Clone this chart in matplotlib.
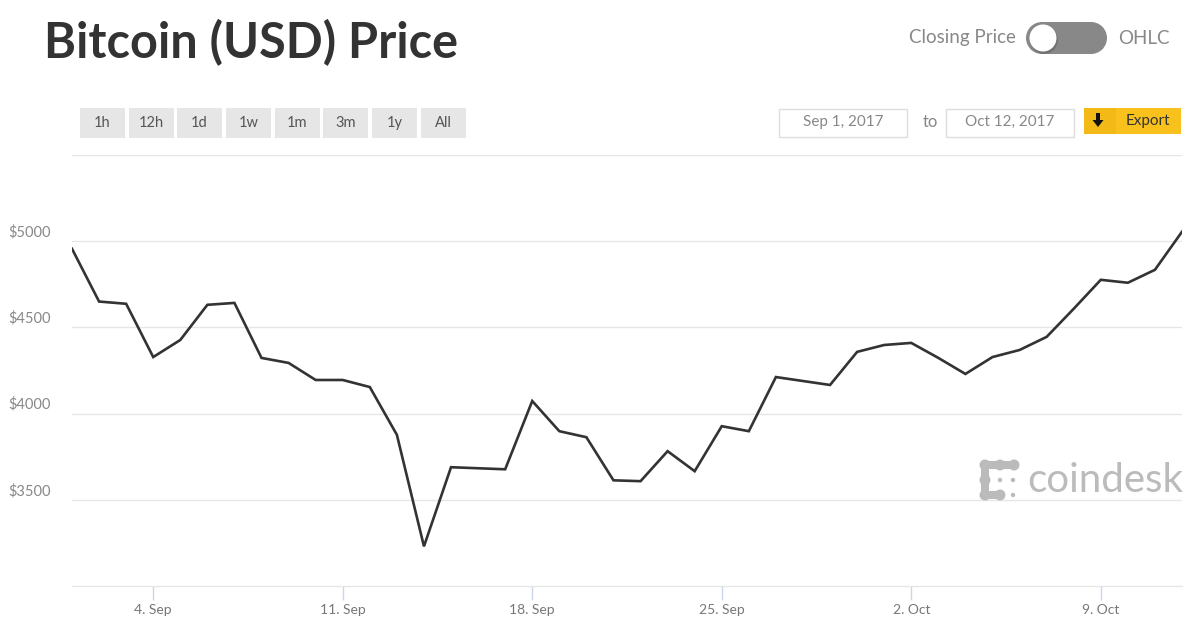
import matplotlib
matplotlib.use("Agg")
import matplotlib.pyplot as plt
import matplotlib.dates as mdates
from matplotlib.patches import FancyBboxPatch, Rectangle, Circle, FancyArrow
import numpy as np
import pandas as pd

# ---- data ----
dates = pd.date_range("2017-09-01", "2017-10-12", freq="D")
prices = [4956, 4650, 4637, 4328, 4427, 4631, 4642, 4323, 4294, 4195,
          4195, 4154, 3877, 3230, 3689, 3683, 3677, 4073, 3898, 3863,
          3613, 3608, 3782, 3666, 3927, 3898, 4212, 4189, 4166, 4358,
          4398, 4410, 4323, 4230, 4328, 4369, 4445, 4608, 4776, 4759,
          4834, 5055]
ytick_vals = [3500, 4000, 4500, 5000]
ytick_labels = ["$3500", "$4000", "$4500", "$5000"]
xtick_dates = ["2017-09-04", "2017-09-11", "2017-09-18", "2017-09-25", "2017-10-02", "2017-10-09"]
xtick_labels = ["4. Sep", "11. Sep", "18. Sep", "25. Sep", "2. Oct", "9. Oct"]
range_buttons = ["1h", "12h", "1d", "1w", "1m", "3m", "1y", "All"]
title = "Bitcoin (USD) Price"

W, H = 1191, 634
fig = plt.figure(figsize=(W / 100, H / 100), dpi=100)
fig.patch.set_facecolor("white")

FONT = "Lato"
grid_c = "#e6e6e6"
lab_c = "#888888"

# ---- main axes ----
ax = fig.add_axes([72 / W, 1 - 586 / H, (1182 - 72) / W, (586 - 155) / H])
ax.plot(dates, prices, color="#333333", lw=1.9, solid_joinstyle="miter", zorder=3)
ax.set_xlim(dates[0], dates[-1])
ax.set_ylim(3000, 5500)
for s in ["left", "right", "top"]:
    ax.spines[s].set_visible(False)
ax.spines["bottom"].set_color(grid_c)
ax.spines["bottom"].set_linewidth(1)
for v in ytick_vals + [5500]:
    ax.axhline(v, color=grid_c, lw=1, zorder=1)
ax.set_yticks([])
xt = pd.to_datetime(xtick_dates)
ax.set_xticks(xt)
ax.set_xticklabels(xtick_labels, fontsize=10, color="#777777", family=FONT)
ax.tick_params(axis="x", length=10, width=1, color="#ccd6eb", pad=3)
for v, l in zip(ytick_vals, ytick_labels):
    ax.annotate(l, xy=(0, v), xycoords=("figure pixels", "data"),
                xytext=(8, 9), textcoords="offset pixels",
                fontsize=10.5, color=lab_c, family=FONT, ha="left", va="center")

# ---- overlay (pixel coordinates) ----
ov = fig.add_axes([0, 0, 1, 1], zorder=5)
ov.set_xlim(0, W)
ov.set_ylim(H, 0)
ov.axis("off")
ov.patch.set_alpha(0)

ov.text(44, 58, title, fontsize=35, fontweight="bold", color="#333333",
        family=FONT, ha="left", va="baseline")

# range buttons
bx = [80, 129, 177, 226, 275, 323, 372, 421]
for x0, lab in zip(bx, range_buttons):
    ov.add_patch(Rectangle((x0, 108), 45, 30, facecolor="#e6e6e6", edgecolor="none"))
    ov.text(x0 + 22.5, 123, lab, fontsize=10.5, color="#555555", family=FONT,
            ha="center", va="center")

# toggle
ov.text(1016, 38, "Closing Price", fontsize=13.5, color="#888888", family=FONT,
        ha="right", va="center")
ov.text(1118, 38, "OHLC", fontsize=13.5, color="#888888", family=FONT,
        ha="left", va="center")
ov.add_patch(Rectangle((1042, 22), 49, 32, facecolor="#888888", edgecolor="none"))
ov.add_patch(Circle((1042, 38), 16, facecolor="#888888", edgecolor="none"))
ov.add_patch(Circle((1091, 38), 16, facecolor="#888888", edgecolor="none"))
ov.add_patch(Circle((1044, 40), 14, facecolor="#555555", edgecolor="none", alpha=0.4))
ov.add_patch(Circle((1043, 38), 13.5, facecolor="white", edgecolor="none"))

# date boxes
ov.add_patch(Rectangle((779, 109), 128, 28, facecolor="white", edgecolor="#dddddd", lw=1))
ov.text(843, 122, "Sep 1, 2017", fontsize=11, color="#888888", family=FONT,
        ha="center", va="center")
ov.text(930, 122, "to", fontsize=12, color="#888888", family=FONT,
        ha="center", va="center")
ov.add_patch(Rectangle((946, 109), 128, 28, facecolor="white", edgecolor="#dddddd", lw=1))
ov.text(1010, 122, "Oct 12, 2017", fontsize=11, color="#888888", family=FONT,
        ha="center", va="center")

# export button
ov.add_patch(Rectangle((1084, 108), 97, 26, facecolor="#f9c11c", edgecolor="none"))
ov.add_patch(Rectangle((1084, 108), 32, 26, facecolor="#f3b917", edgecolor="none"))
ov.add_patch(FancyArrow(1098, 113, 0, 14, width=4, head_width=11, head_length=7,
                        length_includes_head=True, facecolor="#111111", edgecolor="none"))
ov.text(1148, 121, "Export", fontsize=11, color="#333333", family=FONT,
        ha="center", va="center")

# coindesk watermark
logo_c = "#bbbbbb"
big = [(985, 465), (1000, 465), (1014, 465), (985, 480), (985, 495), (1000, 495)]
for (cx, cy) in big:
    ov.add_patch(Circle((cx, cy), 5.5, facecolor=logo_c, edgecolor="none"))
ov.add_patch(Rectangle((985, 461), 29, 8, facecolor=logo_c, edgecolor="none"))
ov.add_patch(Rectangle((981, 465), 8, 30, facecolor=logo_c, edgecolor="none"))
ov.add_patch(Rectangle((985, 491), 15, 8, facecolor=logo_c, edgecolor="none"))
for (cx, cy) in [(1000, 480), (1013, 480), (1013, 495)]:
    ov.add_patch(Circle((cx, cy), 2.2, facecolor=logo_c, edgecolor="none"))
ov.text(1027, 481, "coindesk", fontsize=29, color=logo_c, family=FONT,
        ha="left", va="center")

fig.savefig("out.png", dpi=100, facecolor="white")
